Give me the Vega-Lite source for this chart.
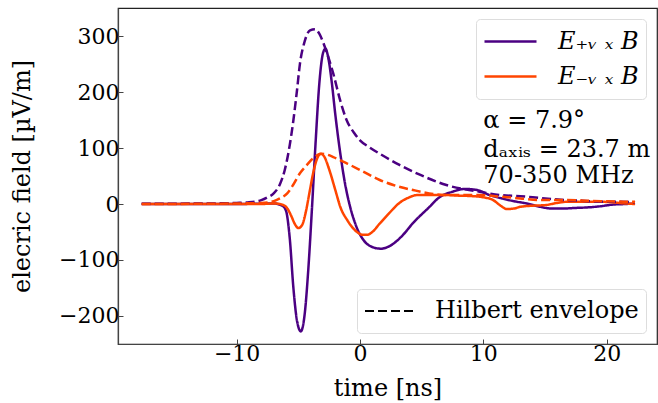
{
  "$schema": "https://vega.github.io/schema/vega-lite/v6.json",
  "width": 539,
  "height": 336,
  "autosize": {"type": "none"},
  "padding": {"left": 118, "top": 8, "right": 1, "bottom": 59},
  "background": "white",
  "config": {
    "view": {"stroke": "#222", "strokeWidth": 1.2},
    "font": "DejaVu Serif",
    "axis": {
      "grid": false,
      "labelFont": "DejaVu Serif",
      "labelFontSize": 22,
      "labelColor": "#000",
      "titleFont": "DejaVu Serif",
      "titleFontSize": 24,
      "titleFontWeight": "normal",
      "titleColor": "#000",
      "domainColor": "#444",
      "domainWidth": 1.2,
      "tickColor": "#444",
      "tickSize": -5,
      "tickWidth": 1
    },
    "legend": {
      "labelFont": "DejaVu Serif",
      "labelFontSize": 24,
      "labelColor": "#000",
      "labelLimit": 400,
      "strokeColor": "#dddddd",
      "fillColor": "rgba(255,255,255,0.8)",
      "cornerRadius": 4,
      "padding": 8,
      "offset": 11,
      "symbolType": "stroke",
      "symbolStrokeWidth": 2.5,
      "labelOffset": 18,
      "rowPadding": 4
    }
  },
  "datasets": {
    "curves": [
      {"t": -17.7, "v": 0, "pol": "plus", "kind": "signal"},
      {"t": -12, "v": 0, "pol": "plus", "kind": "signal"},
      {"t": -8, "v": 0.5, "pol": "plus", "kind": "signal"},
      {"t": -7, "v": 1, "pol": "plus", "kind": "signal"},
      {"t": -6.3, "v": -3, "pol": "plus", "kind": "signal"},
      {"t": -6.0, "v": -12, "pol": "plus", "kind": "signal"},
      {"t": -5.7, "v": -60, "pol": "plus", "kind": "signal"},
      {"t": -5.4, "v": -150, "pol": "plus", "kind": "signal"},
      {"t": -5.1, "v": -210, "pol": "plus", "kind": "signal"},
      {"t": -4.8, "v": -228, "pol": "plus", "kind": "signal"},
      {"t": -4.5, "v": -200, "pol": "plus", "kind": "signal"},
      {"t": -4.2, "v": -120, "pol": "plus", "kind": "signal"},
      {"t": -3.9, "v": -10, "pol": "plus", "kind": "signal"},
      {"t": -3.6, "v": 110, "pol": "plus", "kind": "signal"},
      {"t": -3.3, "v": 215, "pol": "plus", "kind": "signal"},
      {"t": -3.0, "v": 270, "pol": "plus", "kind": "signal"},
      {"t": -2.8, "v": 278, "pol": "plus", "kind": "signal"},
      {"t": -2.6, "v": 265, "pol": "plus", "kind": "signal"},
      {"t": -2.3, "v": 220, "pol": "plus", "kind": "signal"},
      {"t": -2.0, "v": 160, "pol": "plus", "kind": "signal"},
      {"t": -1.6, "v": 91, "pol": "plus", "kind": "signal"},
      {"t": -1.2, "v": 35, "pol": "plus", "kind": "signal"},
      {"t": -0.8, "v": -5, "pol": "plus", "kind": "signal"},
      {"t": -0.3, "v": -40, "pol": "plus", "kind": "signal"},
      {"t": 0.3, "v": -65, "pol": "plus", "kind": "signal"},
      {"t": 1.0, "v": -77, "pol": "plus", "kind": "signal"},
      {"t": 1.7, "v": -80, "pol": "plus", "kind": "signal"},
      {"t": 2.5, "v": -74, "pol": "plus", "kind": "signal"},
      {"t": 3.5, "v": -55, "pol": "plus", "kind": "signal"},
      {"t": 4.3, "v": -34, "pol": "plus", "kind": "signal"},
      {"t": 5.5, "v": -8, "pol": "plus", "kind": "signal"},
      {"t": 6.5, "v": 13, "pol": "plus", "kind": "signal"},
      {"t": 7.5, "v": 22, "pol": "plus", "kind": "signal"},
      {"t": 8.5, "v": 27, "pol": "plus", "kind": "signal"},
      {"t": 9.5, "v": 25, "pol": "plus", "kind": "signal"},
      {"t": 10.5, "v": 16, "pol": "plus", "kind": "signal"},
      {"t": 11.5, "v": 10, "pol": "plus", "kind": "signal"},
      {"t": 12.5, "v": 5, "pol": "plus", "kind": "signal"},
      {"t": 13.5, "v": 1, "pol": "plus", "kind": "signal"},
      {"t": 14.6, "v": -5, "pol": "plus", "kind": "signal"},
      {"t": 15.5, "v": -8, "pol": "plus", "kind": "signal"},
      {"t": 16.5, "v": -8, "pol": "plus", "kind": "signal"},
      {"t": 17.5, "v": -7, "pol": "plus", "kind": "signal"},
      {"t": 18.5, "v": -6, "pol": "plus", "kind": "signal"},
      {"t": 19.5, "v": -4, "pol": "plus", "kind": "signal"},
      {"t": 20.5, "v": -1, "pol": "plus", "kind": "signal"},
      {"t": 21.5, "v": 0, "pol": "plus", "kind": "signal"},
      {"t": 22.3, "v": 1, "pol": "plus", "kind": "signal"},

      {"t": -17.7, "v": 0, "pol": "minus", "kind": "signal"},
      {"t": -8, "v": 0, "pol": "minus", "kind": "signal"},
      {"t": -7, "v": 1, "pol": "minus", "kind": "signal"},
      {"t": -6.5, "v": 0, "pol": "minus", "kind": "signal"},
      {"t": -6.0, "v": -5, "pol": "minus", "kind": "signal"},
      {"t": -5.6, "v": -20, "pol": "minus", "kind": "signal"},
      {"t": -5.3, "v": -35, "pol": "minus", "kind": "signal"},
      {"t": -5.0, "v": -43, "pol": "minus", "kind": "signal"},
      {"t": -4.7, "v": -38, "pol": "minus", "kind": "signal"},
      {"t": -4.4, "v": -15, "pol": "minus", "kind": "signal"},
      {"t": -4.1, "v": 20, "pol": "minus", "kind": "signal"},
      {"t": -3.8, "v": 55, "pol": "minus", "kind": "signal"},
      {"t": -3.5, "v": 80, "pol": "minus", "kind": "signal"},
      {"t": -3.2, "v": 90, "pol": "minus", "kind": "signal"},
      {"t": -2.9, "v": 85, "pol": "minus", "kind": "signal"},
      {"t": -2.5, "v": 62, "pol": "minus", "kind": "signal"},
      {"t": -2.0, "v": 25, "pol": "minus", "kind": "signal"},
      {"t": -1.6, "v": -5, "pol": "minus", "kind": "signal"},
      {"t": -1.0, "v": -30, "pol": "minus", "kind": "signal"},
      {"t": -0.4, "v": -47, "pol": "minus", "kind": "signal"},
      {"t": 0.2, "v": -55, "pol": "minus", "kind": "signal"},
      {"t": 0.6, "v": -55, "pol": "minus", "kind": "signal"},
      {"t": 1.0, "v": -50, "pol": "minus", "kind": "signal"},
      {"t": 1.6, "v": -35, "pol": "minus", "kind": "signal"},
      {"t": 2.3, "v": -18, "pol": "minus", "kind": "signal"},
      {"t": 3.2, "v": 2, "pol": "minus", "kind": "signal"},
      {"t": 4.0, "v": 12, "pol": "minus", "kind": "signal"},
      {"t": 4.6, "v": 16, "pol": "minus", "kind": "signal"},
      {"t": 5.5, "v": 16, "pol": "minus", "kind": "signal"},
      {"t": 7.0, "v": 16, "pol": "minus", "kind": "signal"},
      {"t": 8.0, "v": 15, "pol": "minus", "kind": "signal"},
      {"t": 9.2, "v": 14, "pol": "minus", "kind": "signal"},
      {"t": 10.0, "v": 12, "pol": "minus", "kind": "signal"},
      {"t": 10.8, "v": 7, "pol": "minus", "kind": "signal"},
      {"t": 11.4, "v": -3, "pol": "minus", "kind": "signal"},
      {"t": 11.9, "v": -9, "pol": "minus", "kind": "signal"},
      {"t": 12.5, "v": -8, "pol": "minus", "kind": "signal"},
      {"t": 13.0, "v": -5, "pol": "minus", "kind": "signal"},
      {"t": 14.0, "v": -3, "pol": "minus", "kind": "signal"},
      {"t": 15.0, "v": -2, "pol": "minus", "kind": "signal"},
      {"t": 16.0, "v": 2, "pol": "minus", "kind": "signal"},
      {"t": 16.8, "v": 4, "pol": "minus", "kind": "signal"},
      {"t": 18.0, "v": 4, "pol": "minus", "kind": "signal"},
      {"t": 19.5, "v": 4, "pol": "minus", "kind": "signal"},
      {"t": 20.5, "v": 3, "pol": "minus", "kind": "signal"},
      {"t": 21.5, "v": 1, "pol": "minus", "kind": "signal"},
      {"t": 22.3, "v": 0, "pol": "minus", "kind": "signal"},

      {"t": -17.7, "v": 0.5, "pol": "plus", "kind": "Hilbert envelope"},
      {"t": -12, "v": 1, "pol": "plus", "kind": "Hilbert envelope"},
      {"t": -10, "v": 2, "pol": "plus", "kind": "Hilbert envelope"},
      {"t": -9, "v": 3, "pol": "plus", "kind": "Hilbert envelope"},
      {"t": -8, "v": 7, "pol": "plus", "kind": "Hilbert envelope"},
      {"t": -7.5, "v": 12, "pol": "plus", "kind": "Hilbert envelope"},
      {"t": -7.0, "v": 19, "pol": "plus", "kind": "Hilbert envelope"},
      {"t": -6.5, "v": 35, "pol": "plus", "kind": "Hilbert envelope"},
      {"t": -6.1, "v": 61, "pol": "plus", "kind": "Hilbert envelope"},
      {"t": -5.7, "v": 105, "pol": "plus", "kind": "Hilbert envelope"},
      {"t": -5.4, "v": 150, "pol": "plus", "kind": "Hilbert envelope"},
      {"t": -5.1, "v": 205, "pol": "plus", "kind": "Hilbert envelope"},
      {"t": -4.87, "v": 251, "pol": "plus", "kind": "Hilbert envelope"},
      {"t": -4.5, "v": 290, "pol": "plus", "kind": "Hilbert envelope"},
      {"t": -4.05, "v": 311, "pol": "plus", "kind": "Hilbert envelope"},
      {"t": -3.65, "v": 313, "pol": "plus", "kind": "Hilbert envelope"},
      {"t": -3.3, "v": 305, "pol": "plus", "kind": "Hilbert envelope"},
      {"t": -3.0, "v": 290, "pol": "plus", "kind": "Hilbert envelope"},
      {"t": -2.6, "v": 265, "pol": "plus", "kind": "Hilbert envelope"},
      {"t": -2.16, "v": 233, "pol": "plus", "kind": "Hilbert envelope"},
      {"t": -1.6, "v": 185, "pol": "plus", "kind": "Hilbert envelope"},
      {"t": -1.08, "v": 150, "pol": "plus", "kind": "Hilbert envelope"},
      {"t": -0.5, "v": 128, "pol": "plus", "kind": "Hilbert envelope"},
      {"t": 0, "v": 114, "pol": "plus", "kind": "Hilbert envelope"},
      {"t": 0.8, "v": 101, "pol": "plus", "kind": "Hilbert envelope"},
      {"t": 1.6, "v": 90, "pol": "plus", "kind": "Hilbert envelope"},
      {"t": 3.2, "v": 70, "pol": "plus", "kind": "Hilbert envelope"},
      {"t": 4.9, "v": 52, "pol": "plus", "kind": "Hilbert envelope"},
      {"t": 7.0, "v": 34, "pol": "plus", "kind": "Hilbert envelope"},
      {"t": 9.7, "v": 22, "pol": "plus", "kind": "Hilbert envelope"},
      {"t": 11.4, "v": 16, "pol": "plus", "kind": "Hilbert envelope"},
      {"t": 13.0, "v": 14, "pol": "plus", "kind": "Hilbert envelope"},
      {"t": 14.0, "v": 12, "pol": "plus", "kind": "Hilbert envelope"},
      {"t": 15.5, "v": 9, "pol": "plus", "kind": "Hilbert envelope"},
      {"t": 16.8, "v": 7, "pol": "plus", "kind": "Hilbert envelope"},
      {"t": 18.0, "v": 6, "pol": "plus", "kind": "Hilbert envelope"},
      {"t": 19.5, "v": 4, "pol": "plus", "kind": "Hilbert envelope"},
      {"t": 21.0, "v": 4, "pol": "plus", "kind": "Hilbert envelope"},
      {"t": 22.3, "v": 3, "pol": "plus", "kind": "Hilbert envelope"},

      {"t": -17.7, "v": 0, "pol": "minus", "kind": "Hilbert envelope"},
      {"t": -10, "v": 1, "pol": "minus", "kind": "Hilbert envelope"},
      {"t": -8, "v": 2, "pol": "minus", "kind": "Hilbert envelope"},
      {"t": -7, "v": 5, "pol": "minus", "kind": "Hilbert envelope"},
      {"t": -6.5, "v": 10, "pol": "minus", "kind": "Hilbert envelope"},
      {"t": -5.9, "v": 19, "pol": "minus", "kind": "Hilbert envelope"},
      {"t": -5.4, "v": 35, "pol": "minus", "kind": "Hilbert envelope"},
      {"t": -4.87, "v": 55, "pol": "minus", "kind": "Hilbert envelope"},
      {"t": -4.3, "v": 70, "pol": "minus", "kind": "Hilbert envelope"},
      {"t": -3.8, "v": 82, "pol": "minus", "kind": "Hilbert envelope"},
      {"t": -3.3, "v": 89, "pol": "minus", "kind": "Hilbert envelope"},
      {"t": -3.1, "v": 90, "pol": "minus", "kind": "Hilbert envelope"},
      {"t": -2.6, "v": 88, "pol": "minus", "kind": "Hilbert envelope"},
      {"t": -2.16, "v": 84, "pol": "minus", "kind": "Hilbert envelope"},
      {"t": -1.0, "v": 72, "pol": "minus", "kind": "Hilbert envelope"},
      {"t": 0, "v": 61, "pol": "minus", "kind": "Hilbert envelope"},
      {"t": 1.6, "v": 43, "pol": "minus", "kind": "Hilbert envelope"},
      {"t": 2.7, "v": 34, "pol": "minus", "kind": "Hilbert envelope"},
      {"t": 4.3, "v": 25, "pol": "minus", "kind": "Hilbert envelope"},
      {"t": 7.0, "v": 16, "pol": "minus", "kind": "Hilbert envelope"},
      {"t": 9.7, "v": 16, "pol": "minus", "kind": "Hilbert envelope"},
      {"t": 11.5, "v": 13, "pol": "minus", "kind": "Hilbert envelope"},
      {"t": 13.0, "v": 10, "pol": "minus", "kind": "Hilbert envelope"},
      {"t": 14.6, "v": 7, "pol": "minus", "kind": "Hilbert envelope"},
      {"t": 16.8, "v": 7, "pol": "minus", "kind": "Hilbert envelope"},
      {"t": 19.5, "v": 5, "pol": "minus", "kind": "Hilbert envelope"},
      {"t": 22.3, "v": 4, "pol": "minus", "kind": "Hilbert envelope"}
    ],
    "notes": [
      {"t": 10, "v": 135.7, "label": "α = 7.9°"},
      {"t": 10, "v": 84, "label": "dₐₓᵢₛ = 23.7 m"},
      {"t": 10, "v": 37.5, "label": "70-350 MHz"}
    ]
  },
  "layer": [
    {
      "data": {"name": "curves"},
      "mark": {"type": "line", "strokeWidth": 2.5, "interpolate": "monotone", "clip": true},
      "encoding": {
        "x": {
          "field": "t", "type": "quantitative",
          "scale": {"domain": [-19.62, 24.08], "nice": false, "zero": false},
          "axis": {"values": [-10, 0, 10, 20], "title": "time [ns]", "labelPadding": 4, "titlePadding": 12}
        },
        "y": {
          "field": "v", "type": "quantitative",
          "scale": {"domain": [-250.6, 350.9], "nice": false, "zero": false},
          "axis": {"values": [-200, -100, 0, 100, 200, 300], "title": "elecric field [µV/m]", "labelPadding": 4, "titlePadding": 24}
        },
        "color": {
          "field": "pol", "type": "nominal",
          "scale": {"domain": ["plus", "minus"], "range": ["#4b0082", "#ff4500"]},
          "legend": {
            "orient": "top-right",
            "title": null,
            "symbolSize": 2704,
            "clipHeight": 31,
            "labelExpr": "datum.value == 'plus' ? 'E₊ᵥ ₓ B' : 'E₋ᵥ ₓ B'",
            "labelFontStyle": "italic",
            "labelOffset": 20,
            "padding": 7
          }
        },
        "strokeDash": {
          "field": "kind", "type": "nominal",
          "scale": {"domain": ["signal", "Hilbert envelope"], "range": [[1, 0], [9, 4]]},
          "legend": {
            "orient": "bottom-right",
            "title": null,
            "values": ["Hilbert envelope"],
            "symbolSize": 2401,
            "clipHeight": 30,
            "symbolStrokeColor": "#000",
            "symbolStrokeWidth": 2,
            "labelOffset": 20,
            "padding": 7,
            "encode": {"symbols": {"enter": {"strokeDash": {"value": [5.5, 3.5]}}, "update": {"strokeDash": {"value": [5.5, 3.5]}}}}
          }
        }
      }
    },
    {
      "data": {"name": "notes"},
      "mark": {"type": "text", "align": "left", "baseline": "alphabetic", "fontSize": 24, "font": "DejaVu Serif", "color": "#000"},
      "encoding": {
        "x": {"field": "t", "type": "quantitative"},
        "y": {"field": "v", "type": "quantitative"},
        "text": {"field": "label"}
      }
    }
  ]
}
